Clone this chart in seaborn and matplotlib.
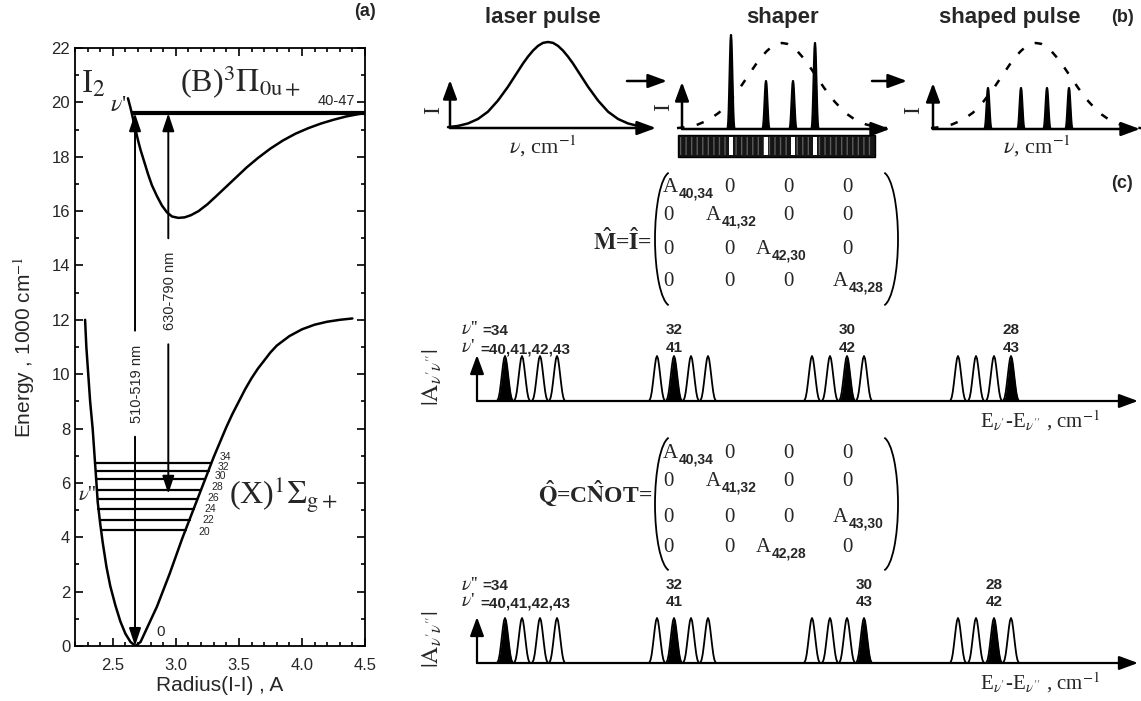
import numpy as np
import matplotlib
matplotlib.use("Agg")
import matplotlib.pyplot as plt
from matplotlib.patches import Rectangle, Arc
import seaborn as sns

# ---------------- data ----------------
# (a) potential curves, radius in A, energy in 1000 cm-1
X_R = [2.28, 2.29, 2.305, 2.32, 2.34, 2.355, 2.37, 2.38, 2.40, 2.42, 2.45, 2.48,
       2.52, 2.56, 2.60, 2.64, 2.68, 2.72, 2.76, 2.80, 2.85, 2.90, 2.95, 3.00,
       3.05, 3.10, 3.15, 3.20, 3.25, 3.30, 3.35, 3.40, 3.45, 3.50, 3.55, 3.60,
       3.65, 3.70, 3.75, 3.80, 3.90, 4.00, 4.10, 4.20, 4.30, 4.40]
X_E = [12.0, 11.0, 10.0, 9.0, 8.0, 7.0, 6.0, 5.3, 4.5, 3.8, 2.9, 2.2,
       1.5, 0.9, 0.45, 0.15, 0.0, 0.15, 0.55, 0.95, 1.45, 2.05, 2.65, 3.3,
       3.95, 4.55, 5.15, 5.75, 6.35, 6.95, 7.5, 8.05, 8.55, 9.0, 9.45, 9.85,
       10.2, 10.5, 10.8, 11.05, 11.4, 11.65, 11.82, 11.93, 12.0, 12.05]
B_R = [2.62, 2.64, 2.66, 2.68, 2.70, 2.72, 2.75, 2.78, 2.81, 2.85, 2.89, 2.93,
       2.97, 3.02, 3.07, 3.12, 3.18, 3.25, 3.32, 3.40, 3.48, 3.56, 3.65, 3.75,
       3.85, 3.95, 4.05, 4.15, 4.25, 4.35, 4.45, 4.50]
B_E = [20.15, 19.8, 19.4, 19.0, 18.6, 18.25, 17.8, 17.35, 16.95, 16.55, 16.2, 15.95,
       15.8, 15.75, 15.77, 15.85, 16.0, 16.25, 16.55, 16.9, 17.25, 17.6, 17.95, 18.3,
       18.6, 18.85, 19.05, 19.22, 19.36, 19.48, 19.57, 19.6]
LEVEL_E = [4.27, 4.64, 5.04, 5.41, 5.74, 6.14, 6.45, 6.73]
LEVEL_R_LEFT = [2.405, 2.395, 2.385, 2.38, 2.375, 2.37, 2.365, 2.36]
LEVEL_R_RIGHT = [3.08, 3.11, 3.14, 3.17, 3.20, 3.23, 3.26, 3.28]
LEVEL_LABELS = ["20", "22", "24", "26", "28", "30", "32", "34"]
LABEL_R = [3.18, 3.21, 3.23, 3.25, 3.28, 3.31, 3.33, 3.35]
LABEL_E = [4.2, 4.65, 5.05, 5.45, 5.85, 6.25, 6.6, 6.95]
B_LEVEL_E = 19.6

# (b) pulse shapes (relative profiles)
GAUSS_DX = [-100, -90, -80, -70, -60, -50, -40, -30, -25, -20, -15, -10, -5, 0,
            5, 10, 15, 20, 25, 30, 40, 50, 60, 70, 80, 90, 100]
GAUSS_REL = [0.01, 0.024, 0.053, 0.105, 0.19, 0.32, 0.48, 0.66, 0.75, 0.83, 0.9, 0.955, 0.99, 1.0,
             0.99, 0.955, 0.9, 0.83, 0.75, 0.66, 0.48, 0.32, 0.19, 0.105, 0.053, 0.024, 0.01]
PEAK_DX = [-8, -7, -6, -5, -4, -3, -2, -1, 0, 1, 2, 3, 4, 5, 6, 7, 8]
PEAK_REL = [0, 0.02, 0.08, 0.2, 0.38, 0.58, 0.78, 0.94, 1, 0.94, 0.78, 0.58, 0.38, 0.2, 0.08, 0.02, 0]
SHAPER_PEAKS = [731, 766, 793, 815]
SHAPER_HEIGHTS = [94, 48, 48, 86]
SHAPED_PEAKS = [988, 1021, 1047, 1069]
SHAPED_HEIGHTS = [41, 41, 41, 41]

# (c) amplitude spectra
PEAK_GROUPS = [[505, 522, 540, 557], [657, 674, 691, 708],
               [812, 830, 847, 864], [958, 976, 994, 1011]]
ROW1_FILLED = [0, 1, 2, 3]
ROW2_FILLED = [0, 1, 3, 2]
ROW1_TOP = ["32", "30", "28"]
ROW1_BOT = ["41", "42", "43"]
ROW2_TOP = ["32", "30", "28"]
ROW2_BOT = ["41", "43", "42"]
M_ENTRIES = [["40,34", "0", "0", "0"], ["0", "41,32", "0", "0"],
             ["0", "0", "42,30", "0"], ["0", "0", "0", "43,28"]]
Q_ENTRIES = [["40,34", "0", "0", "0"], ["0", "41,32", "0", "0"],
             ["0", "0", "0", "43,30"], ["0", "0", "42,28", "0"]]

# ---------------- style ----------------
sns.set_theme(style="ticks")
plt.rcParams["font.family"] = ["Liberation Sans", "DejaVu Sans"]
plt.rcParams["mathtext.fontset"] = "stix"
SERIF = ["Liberation Serif", "DejaVu Serif"]
NARROW = ["Liberation Sans Narrow", "Liberation Sans", "DejaVu Sans"]

W, H = 1141, 701
fig = plt.figure(figsize=(W / 100, H / 100), dpi=100)
fig.patch.set_facecolor("white")

# ---------------- (a) ----------------
L, R, T, B = 75, 365, 48, 646
axa = fig.add_axes([L / W, (H - B) / H, (R - L) / W, (B - T) / H])
sns.lineplot(x=X_R, y=X_E, ax=axa, color="black", lw=1.8, sort=False, estimator=None)
sns.lineplot(x=B_R, y=B_E, ax=axa, color="black", lw=1.8, sort=False, estimator=None)
for e, r0, r1 in zip(LEVEL_E, LEVEL_R_LEFT, LEVEL_R_RIGHT):
    axa.plot([r0, r1], [e, e], color="black", lw=1.6)
for r, e, lab in zip(LABEL_R, LABEL_E, LEVEL_LABELS):
    axa.text(r, e, lab, fontsize=7.5, ha="left", va="center")
axa.plot([2.655, 4.5], [B_LEVEL_E, B_LEVEL_E], color="black", lw=3, solid_capstyle="butt")

ap_a = dict(arrowstyle="-|>,head_width=0.3,head_length=0.9", lw=1.4, color="black",
            shrinkA=0, shrinkB=0)
axa.annotate("", xy=(2.676, B_LEVEL_E), xytext=(2.676, 11.6), arrowprops=ap_a)
axa.annotate("", xy=(2.676, 0.0), xytext=(2.676, 7.7), arrowprops=ap_a)
axa.annotate("", xy=(2.94, B_LEVEL_E), xytext=(2.94, 15.0), arrowprops=ap_a)
axa.annotate("", xy=(2.94, 5.6), xytext=(2.94, 11.1), arrowprops=ap_a)
axa.text(2.69, 9.65, "510-519 nm", rotation=90, fontsize=10.5, ha="center", va="center")
axa.text(2.955, 13.05, "630-790 nm", rotation=90, fontsize=10.5, ha="center", va="center")

axa.text(2.25, 20.65, r"I$_2$", fontsize=24, family=SERIF, ha="left", va="center")
axa.text(3.03, 20.75, r"(B)$^3\Pi_{\mathrm{0u+}}$", fontsize=23, family=SERIF,
         ha="left", va="center")
axa.text(2.54, 19.9, r"$\nu$'", fontsize=17, family=SERIF, ha="center", va="center")
axa.text(4.27, 20.05, "40-47", fontsize=10.5, ha="center", va="center")
axa.text(3.42, 5.55, r"(X)$^1\Sigma_{\mathrm{g+}}$", fontsize=23, family=SERIF,
         ha="left", va="center")
axa.text(2.3, 5.55, r"$\nu$''", fontsize=15, family=SERIF, ha="center", va="center")
axa.text(2.88, 0.5, "0", fontsize=11, ha="center", va="center")

axa.set_xlim(2.2, 4.5)
axa.set_ylim(0, 22)
axa.set_xticks([2.5, 3.0, 3.5, 4.0, 4.5])
axa.set_xticklabels(["2.5", "3.0", "3.5", "4.0", "4.5"])
axa.set_yticks(range(0, 23, 2))
axa.set_xticks(np.arange(2.2, 4.51, 0.1), minor=True)
axa.set_yticks(range(0, 23, 1), minor=True)
axa.tick_params(which="both", direction="in", top=True, right=True, labelsize=12,
                width=1.2, color="black")
axa.tick_params(which="major", length=6)
axa.tick_params(which="minor", length=3)
axa.tick_params(axis="x", pad=9)
for s in axa.spines.values():
    s.set_visible(True)
    s.set_linewidth(1.3)
    s.set_color("black")
axa.set_xlabel("Radius(I-I) , A", fontsize=15, labelpad=2)
axa.set_ylabel(r"Energy , 1000 cm$^{-1}$", fontsize=15, labelpad=10)
fig.text(365 / W, 1 - 12 / H, "(a)", fontsize=13, fontweight="bold", ha="center", va="center")

# ---------------- (b), (c) drawn in pixel space ----------------
ax = fig.add_axes([0, 0, 1, 1])
ax.set_xlim(0, W)
ax.set_ylim(H, 0)
ax.axis("off")


def arrow(x0, y0, x1, y1, lw=1.8, hw=0.35, hl=0.95):
    ax.annotate("", xy=(x1, y1), xytext=(x0, y0),
                arrowprops=dict(arrowstyle=f"-|>,head_width={hw},head_length={hl}",
                                lw=lw, color="black", shrinkA=0, shrinkB=0))


def gauss(cx, base, height, scale=1.0, **kw):
    xs = [cx + d * scale for d in GAUSS_DX]
    ys = [base - height * v for v in GAUSS_REL]
    sns.lineplot(x=xs, y=ys, ax=ax, sort=False, estimator=None, color="black", **kw)


def peak(cx, base, height, scale=1.0, fill=None, lw=1.3):
    xs = [cx + d * scale for d in PEAK_DX]
    ys = [base - height * v for v in PEAK_REL]
    if fill is not None:
        ax.fill_between(xs, ys, base, color=fill, lw=0)
    ax.plot(xs, ys, color="black", lw=lw)


title_kw = dict(fontsize=16, fontweight="bold", family=NARROW, ha="center", va="center")
ax.text(543, 17, "laser pulse", **title_kw)
ax.text(783, 17, "shaper", **title_kw)
ax.text(1010, 17, "shaped pulse", **title_kw)
ax.text(1122, 17, "(b)", fontsize=13, fontweight="bold", ha="center", va="center")

# laser pulse
base = 128
arrow(450, base, 450, 80)
arrow(450, base, 656, base)
gauss(548, base, 86, lw=1.8)
ax.text(434, 110, "I", rotation=90, fontsize=17, family=SERIF, ha="center", va="center")
ax.text(543, 146, r"$\nu$, cm$^{-1}$", fontsize=16, family=SERIF, ha="center", va="center")
arrow(627, 81, 667, 81)

# shaper
base = 129
arrow(682, base, 682, 82)
arrow(682, base, 890, base)
gauss(782, base, 86, scale=1.05, lw=1.8, dashes=(3, 5))
for x, h in zip(SHAPER_PEAKS, SHAPER_HEIGHTS):
    peak(x, base, h, scale=0.45, fill="black", lw=1.6)
ax.text(664, 107, "I", rotation=90, fontsize=17, family=SERIF, ha="center", va="center")
ax.add_patch(Rectangle((678, 135), 197, 22, facecolor="#151515", edgecolor="black", lw=1))
ax.add_patch(Rectangle((680, 137), 193, 18, fill=False, hatch="|||", edgecolor="#5a5a5a", lw=0))
for x in SHAPER_PEAKS:
    ax.add_patch(Rectangle((x - 2, 137), 4, 18, facecolor="white", lw=0))
arrow(872, 81, 907, 81)

# shaped pulse
base = 129
arrow(933, base, 933, 83)
arrow(933, base, 1140, base)
gauss(1036, base, 86, scale=1.05, lw=1.8, dashes=(3, 5))
for x, h in zip(SHAPED_PEAKS, SHAPED_HEIGHTS):
    peak(x, base, h, scale=0.45, fill="black", lw=1.6)
ax.text(914, 110, "I", rotation=90, fontsize=17, family=SERIF, ha="center", va="center")
ax.text(1037, 146, r"$\nu$, cm$^{-1}$", fontsize=16, family=SERIF, ha="center", va="center")

ax.text(1122, 183, "(c)", fontsize=13, fontweight="bold", ha="center", va="center")


def matrix(entries, rows_y, top, bottom, label, label_y):
    zero_x = [663, 724, 783, 842]
    a_x = [663, 706, 756, 833]
    for i, row in enumerate(entries):
        for j, e in enumerate(row):
            y = rows_y[i]
            if e == "0":
                ax.text(zero_x[j], y, "0", fontsize=15, family=SERIF, ha="left", va="center")
            else:
                ax.text(a_x[j], y, "A", fontsize=15, family=SERIF, ha="left", va="center")
                ax.text(a_x[j] + 16, y + 6, e, fontsize=10, fontweight="bold",
                        ha="left", va="center")
    cy = (top + bottom) / 2
    hgt = bottom - top
    ax.add_patch(Arc((671, cy), 32, hgt, theta1=92, theta2=268, lw=1.3, color="black"))
    ax.add_patch(Arc((882, cy), 32, hgt, theta1=-88, theta2=88, lw=1.3, color="black"))
    ax.text(652, label_y, label, fontsize=17, family=SERIF, fontweight="bold",
            ha="right", va="center")


matrix(M_ENTRIES, [188, 216, 250, 281], 172, 306, r"$\mathbf{\hat{M}}$=$\mathbf{\hat{I}}$=", 242)
matrix(Q_ENTRIES, [453, 481, 517, 548], 437, 571, r"$\mathbf{\hat{Q}}$=C$\mathbf{\hat{N}}$OT=", 494)


def spectrum(base, filled, tops, bots, lab_y1, lab_y2):
    arrow(477, base, 477, base - 46, lw=1.6)
    arrow(477, base, 1138, base, lw=1.6)
    for g, group in enumerate(PEAK_GROUPS):
        for k, x in enumerate(group):
            peak(x, base, 45, scale=1.05, fill="black" if filled[g] == k else "white")
    ax.text(461, lab_y1, r"$\nu$''", fontsize=14, family=SERIF, ha="left", va="center")
    ax.text(482, lab_y1 + 1, "=34", fontsize=11, fontweight="bold", family=NARROW,
            ha="left", va="center")
    ax.text(461, lab_y2, r"$\nu$'", fontsize=14, family=SERIF, ha="left", va="center")
    ax.text(480, lab_y2 + 1, "=40,41,42,43", fontsize=11, fontweight="bold", family=NARROW,
            ha="left", va="center")
    for g in range(1, 4):
        x = PEAK_GROUPS[g][filled[g]]
        ax.text(x, lab_y1, tops[g - 1], fontsize=11, fontweight="bold", family=NARROW,
                ha="center", va="center")
        ax.text(x, lab_y2, bots[g - 1], fontsize=11, fontweight="bold", family=NARROW,
                ha="center", va="center")
    ax.text(432, base - 24, r"$|\mathrm{A}_{\nu^{\prime}\nu^{\prime\prime}}|$", rotation=90,
            fontsize=17, ha="center", va="center")
    ax.text(1040, base + 20, r"E$_{\nu^{\prime}}$-E$_{\nu^{\prime\prime}}$ , cm$^{-1}$",
            fontsize=15, family=SERIF, ha="center", va="center")


spectrum(401, ROW1_FILLED, ROW1_TOP, ROW1_BOT, 330, 348)
spectrum(663, ROW2_FILLED, ROW2_TOP, ROW2_BOT, 585, 602)

fig.savefig("out.png", dpi=100, facecolor="white")
